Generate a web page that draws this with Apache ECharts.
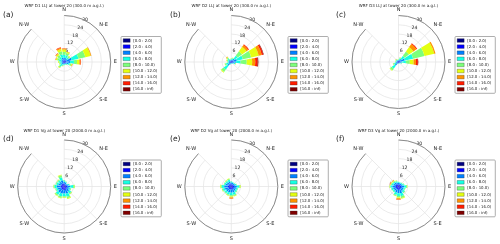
<!DOCTYPE html>
<html><head><meta charset="utf-8">
<script src="https://cdn.jsdelivr.net/npm/echarts@6/dist/echarts.min.js"></script>
<style>html,body{margin:0;padding:0;background:#fff}#c{width:500px;height:244px}</style>
</head><body><div id="c"></div>
<script>
// ---------- data ----------
const directions = ['N','NNE','NE','ENE','E','ESE','SE','SSE','S','SSW','SW','WSW','W','WNW','NW','NNW'];
const compassLabels = ['N','N-E','E','S-E','S','S-W','W','N-W'];
const speedBins = ['[0.0 : 2.0)','[2.0 : 4.0)','[4.0 : 6.0)','[6.0 : 8.0)','[8.0 : 10.0)','[10.0 : 12.0)','[12.0 : 14.0)','[14.0 : 16.0)','[16.0 : inf)'];
const binColors = ['#000080','#0000ff','#0080ff','#15ffe2','#7dff7a','#e4ff12','#ff9400','#ff1d00','#800000'];
const radiusMax = 30, radiusStep = 6;
const titles = [
  'WRF D1 LLJ at tower 20 (300.0 m a.g.l.)',
  'WRF D2 LLJ at tower 20 (300.0 m a.g.l.)',
  'WRF D3 LLJ at tower 20 (300.0 m a.g.l.)',
  'WRF D1 Vg at tower 20 (2000.0 m a.g.l.)',
  'WRF D2 Vg at tower 20 (2000.0 m a.g.l.)',
  'WRF D3 Vg at tower 20 (2000.0 m a.g.l.)'
];
const panelLetters = ['(a)','(b)','(c)','(d)','(e)','(f)'];

// frequency (%) per direction (rows, N clockwise) and speed bin (columns)
const roseA = [
  [0.3,0.8,1.5,2.0,2.0,1.5,0.6,0.2,0],
  [0.3,0.8,1.5,1.8,1.5,0.8,0.3,0,0],
  [0.3,0.8,1.2,1.2,1.0,0.5,0,0,0],
  [0.3,1.2,3.5,4.5,4.5,3.5,0.5,0,0],
  [0.3,1.0,2.5,2.5,2.0,1.5,0.8,0.3,0],
  [0.3,0.8,1.5,1.2,1.0,0.5,0.3,0,0],
  [0.2,0.5,0.8,0.6,0.4,0,0,0,0],
  [0.2,0.5,0.7,0.4,0.2,0,0,0,0],
  [0.2,0.5,0.7,0.5,0.2,0,0,0,0],
  [0.2,0.5,0.8,0.8,0.5,0.2,0,0,0],
  [0.2,0.6,1.2,1.5,1.0,0.4,0,0,0],
  [0.2,0.5,0.9,1.0,0.6,0.3,0,0,0],
  [0.2,0.6,1.0,1.1,0.7,0.4,0,0,0],
  [0.2,0.6,1.2,1.5,1.3,0.8,0.3,0,0],
  [0.2,0.6,1.4,1.8,1.5,1.0,0.4,0.2,0],
  [0.3,0.8,1.8,2.2,2.0,1.5,0.8,0.4,0]
];
const roseB = [
  [0.2,0.5,0.8,0.6,0.3,0,0,0,0],
  [0.2,0.5,0.8,0.8,0.5,0.2,0,0,0],
  [0.2,0.8,1.5,2.5,3.5,3.5,1.5,0.5,0],
  [0.2,1.0,2.5,4.0,5.5,5.0,2.0,1.0,0.3],
  [0.2,0.8,2.0,3.0,4.0,3.5,2.0,1.5,0.5],
  [0.2,0.6,1.0,0.8,0.4,0.2,0,0,0],
  [0.2,0.4,0.5,0.3,0,0,0,0,0],
  [0.2,0.3,0.4,0.3,0,0,0,0,0],
  [0.2,0.3,0.4,0.3,0,0,0,0,0],
  [0.2,0.4,0.6,0.4,0.2,0,0,0,0],
  [0.2,0.8,2.0,3.0,2.0,0.5,0,0,0],
  [0.2,0.6,1.2,1.5,0.8,0.2,0,0,0],
  [0.2,0.5,0.8,0.8,0.4,0.2,0,0,0],
  [0.2,0.5,0.8,0.8,0.6,0.3,0.1,0,0],
  [0.2,0.5,1.0,1.0,0.8,0.5,0.3,0,0],
  [0.2,0.4,0.6,0.5,0.3,0.1,0,0,0]
];
const roseC = [
  [0.2,0.4,0.5,0.4,0.2,0,0,0,0],
  [0.2,0.5,0.8,0.8,0.6,0.3,0,0,0],
  [0.2,0.6,1.5,2.5,3.5,3.5,2.5,0.5,0],
  [0.2,1.0,3.0,5.5,7.5,6.5,0.8,0,0],
  [0.2,0.6,1.5,2.5,2.5,2.5,1.5,1.2,0.3],
  [0.2,0.5,0.8,0.6,0.3,0,0,0,0],
  [0.2,0.3,0.4,0.3,0,0,0,0,0],
  [0.2,0.3,0.3,0.2,0,0,0,0,0],
  [0.2,0.3,0.3,0.2,0,0,0,0,0],
  [0.2,0.4,0.5,0.3,0.1,0,0,0,0],
  [0.2,0.8,1.8,2.5,1.5,0.3,0,0,0],
  [0.2,0.5,1.0,1.2,0.7,0.2,0,0,0],
  [0.2,0.5,0.7,0.5,0.3,0,0,0,0],
  [0.2,0.4,0.6,0.5,0.3,0.2,0,0,0],
  [0.2,0.4,0.6,0.6,0.4,0.2,0.1,0,0],
  [0.2,0.4,0.5,0.4,0.2,0.1,0,0,0]
];
const roseD = [
  [0.4,1.2,1.5,0.8,0.3,0,0,0,0],
  [0.4,1.0,1.2,0.6,0.2,0,0,0,0],
  [0.4,0.8,0.8,0.4,0,0,0,0,0],
  [0.4,1.0,1.2,0.8,0.3,0,0,0,0],
  [0.5,1.5,2.0,1.8,1.0,0.2,0,0,0],
  [0.5,1.2,1.5,1.0,0.5,0,0,0,0],
  [0.5,1.5,2.0,1.5,0.6,0.2,0,0,0],
  [0.5,1.8,2.5,2.0,1.0,0.5,0,0,0],
  [0.5,1.8,2.2,1.8,0.8,0.3,0,0,0],
  [0.5,1.8,2.5,1.8,1.0,0.4,0,0,0],
  [0.5,1.8,2.5,1.8,0.8,0.3,0,0,0],
  [0.5,1.5,2.2,1.2,0.5,0,0,0,0],
  [0.5,1.8,2.5,1.5,0.6,0.2,0,0,0],
  [0.5,1.5,2.0,1.2,0.5,0,0,0,0],
  [0.5,1.5,1.8,1.2,0.6,0.2,0,0,0],
  [0.5,1.5,2.2,2.0,1.2,0.6,0,0,0]
];
const roseE = [
  [0.4,1.0,1.2,0.6,0.2,0,0,0,0],
  [0.4,1.0,1.0,0.5,0,0,0,0,0],
  [0.4,0.9,1.0,0.5,0.2,0,0,0,0],
  [0.4,1.0,1.2,0.8,0.3,0,0,0,0],
  [0.5,1.3,1.8,1.5,0.8,0.3,0,0,0],
  [0.5,1.2,1.5,1.0,0.4,0,0,0,0],
  [0.5,1.3,1.6,1.0,0.5,0,0,0,0],
  [0.5,1.5,2.0,1.5,0.8,0.3,0,0,0],
  [0.5,1.5,2.0,1.6,0.9,0.6,0.6,0.2,0],
  [0.5,1.5,2.0,1.4,0.6,0.2,0,0,0],
  [0.5,1.5,2.0,1.2,0.5,0,0,0,0],
  [0.5,1.5,2.2,1.4,0.6,0.2,0,0,0],
  [0.5,1.7,2.4,1.6,0.8,0.3,0,0,0],
  [0.5,1.4,1.8,1.0,0.4,0,0,0,0],
  [0.5,1.3,1.6,1.0,0.5,0.2,0,0,0],
  [0.5,1.2,1.5,1.2,0.8,0.3,0,0,0]
];
const roseF = [
  [0.4,1.0,1.0,0.5,0.2,0,0,0,0],
  [0.4,0.9,1.0,0.5,0,0,0,0,0],
  [0.4,0.9,1.0,0.6,0.2,0,0,0,0],
  [0.4,1.0,1.3,0.9,0.4,0,0,0,0],
  [0.5,1.3,1.8,1.3,0.7,0.2,0,0,0],
  [0.5,1.2,1.6,1.0,0.4,0,0,0,0],
  [0.5,1.3,1.8,1.2,0.6,0,0,0,0],
  [0.5,1.6,2.4,2.0,1.2,0.4,0,0,0],
  [0.5,1.6,2.2,1.8,1.0,0.5,0.8,0.2,0],
  [0.5,1.5,2.0,1.5,0.7,0.2,0,0,0],
  [0.5,1.3,1.6,1.0,0.4,0,0,0,0],
  [0.5,1.3,1.8,1.0,0.4,0,0,0,0],
  [0.5,1.5,2.0,1.2,0.5,0.2,0,0,0],
  [0.5,1.3,1.6,1.0,0.6,0.4,0.3,0.2,0],
  [0.5,1.2,1.4,0.9,0.6,0.4,0.3,0.1,0],
  [0.4,1.0,1.2,0.8,0.5,0.3,0,0,0]
];
const roses = [roseA, roseB, roseC, roseD, roseE, roseF];

// ---------- layout ----------
const colX = [64.2, 231.3, 398.5];
const rowY = [62, 186.5];
const legendX = [121, 288, 455];
const legendY = [36.5, 160];
const letterX = [3, 170, 336];
const R = 46.5;
const FONT = 'DejaVu Sans';

const polar = [], angleAxis = [], radiusAxis = [], series = [], legend = [], title = [];
roses.forEach((rose, p) => {
  const cx = colX[p % 3], cy = rowY[Math.floor(p / 3)];
  const center = [cx, cy];
  // grid polar
  polar.push({center, radius: R});
  angleAxis.push({
    polarIndex: 3*p, type: 'category', data: compassLabels, boundaryGap: false,
    startAngle: 90, clockwise: true, z: 1,
    axisLine: {show: true, lineStyle: {color: '#8c8c8c', width: 1}},
    axisTick: {show: false},
    axisLabel: {show: true, fontSize: 5, color: '#222', margin: 3, fontFamily: FONT},
    splitLine: {show: true, lineStyle: {color: '#e3e3e3', width: 0.7}}
  });
  radiusAxis.push({
    polarIndex: 3*p, type: 'value', min: 0, max: radiusMax, interval: radiusStep,
    axisLine: {show: false}, axisTick: {show: false}, axisLabel: {show: false},
    splitLine: {show: true, lineStyle: {color: '#e3e3e3', width: 0.7}}
  });
  // radius label polar
  polar.push({center, radius: R});
  angleAxis.push({
    polarIndex: 3*p+1, type: 'value', min: 0, max: 360, startAngle: 58, show: false
  });
  radiusAxis.push({
    polarIndex: 3*p+1, type: 'value', min: 0, max: radiusMax, interval: radiusStep,
    axisLine: {show: false}, axisTick: {show: false}, splitLine: {show: false},
    axisLabel: {show: true, fontSize: 4.6, color: '#222', margin: 1, fontFamily: FONT,
      verticalAlign: 'bottom',
      formatter: v => v === 0 ? '' : String(v)}
  });
  // bars polar
  polar.push({center, radius: R});
  angleAxis.push({
    polarIndex: 3*p+2, type: 'category', data: directions, boundaryGap: true,
    startAngle: 90 + 180 / directions.length, clockwise: true, show: false
  });
  radiusAxis.push({
    polarIndex: 3*p+2, type: 'value', min: 0, max: radiusMax, show: false
  });
  speedBins.forEach((name, b) => {
    series.push({
      type: 'bar', name, coordinateSystem: 'polar', polarIndex: 3*p+2,
      stack: 'rose' + p, data: rose.map(r => r[b]),
      barCategoryGap: '14%', z: 5,
      itemStyle: {color: binColors[b]}, emphasis: {disabled: true}, silent: true,
      animation: false
    });
  });
  legend.push({
    data: speedBins, orient: 'vertical',
    left: legendX[p % 3], top: legendY[Math.floor(p / 3)],
    itemWidth: 7, itemHeight: 3.6, itemGap: 2.1, padding: [2, 4, 2, 2],
    icon: 'rect', selectedMode: false,
    borderColor: '#999', borderWidth: 0.8, borderRadius: 1,
    textStyle: {fontSize: 3.9, color: '#222', fontFamily: FONT, padding: [0,0,0,-2]},
    itemStyle: {borderColor: '#222', borderWidth: 0.3}
  });
  title.push({
    text: titles[p], left: cx, top: rowY[Math.floor(p/3)] - 58, textAlign: 'center', padding: 0,
    textStyle: {fontSize: 4, fontWeight: 'normal', color: '#222', fontFamily: FONT}
  });
  title.push({
    text: panelLetters[p], left: letterX[p % 3], top: rowY[Math.floor(p/3)] - 51, padding: 0,
    textStyle: {fontSize: 7.5, fontWeight: 'normal', color: '#222', fontFamily: FONT}
  });
});

const chart = echarts.init(document.getElementById('c'), null, {renderer: 'canvas'});
chart.setOption({
  backgroundColor: '#fff', animation: false,
  title, polar, angleAxis, radiusAxis, series, legend
});
</script></body></html>
